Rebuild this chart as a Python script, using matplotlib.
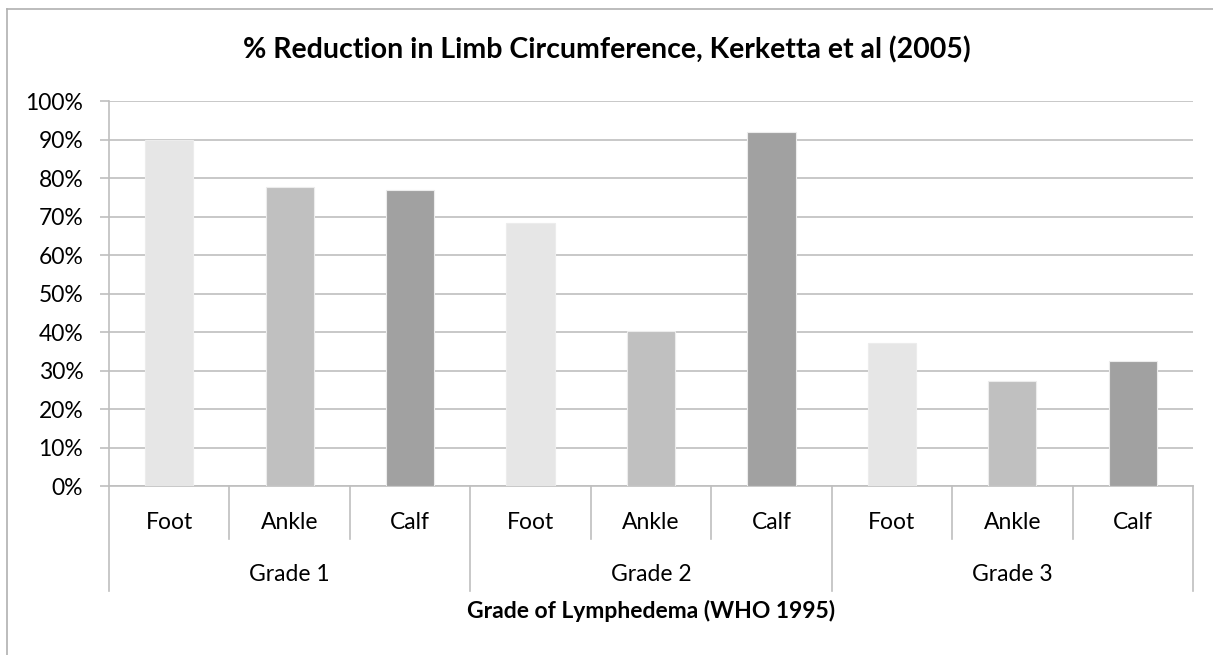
import matplotlib
matplotlib.use("Agg")
import matplotlib.pyplot as plt
from matplotlib.lines import Line2D
from matplotlib.ticker import PercentFormatter

grades = ["Grade 1", "Grade 2", "Grade 3"]
sites = ["Foot", "Ankle", "Calf"]
# % reduction per grade, in order Foot, Ankle, Calf
grade1 = [90.0, 77.7, 76.9]
grade2 = [68.4, 40.4, 91.9]
grade3 = [37.1, 27.3, 32.6]
site_colors = ["#e6e6e6", "#c0c0c0", "#a1a1a1"]

plt.rcParams["font.family"] = ["Lato", "DejaVu Sans"]
GRID = "#bfbfbf"
FS = 16.5

fig = plt.figure(figsize=(12.13, 6.55), dpi=100)
ax = fig.add_axes([109 / 1213, 1 - 486.3 / 655, 1084 / 1213, 385 / 655])

values = grade1 + grade2 + grade3
n = len(values)
xs = list(range(n))
colors = site_colors * len(grades)
ax.bar(xs, values, width=0.4, color=colors, edgecolor="#ececec", linewidth=0.8, zorder=3)

ax.set_xlim(-0.5, n - 0.5)
ax.set_ylim(0, 100)
ax.set_yticks(range(0, 101, 10))
ax.yaxis.set_major_formatter(PercentFormatter(decimals=0))
ax.grid(axis="y", color=GRID, linewidth=1.2, zorder=0)
ax.tick_params(axis="y", length=6.5, width=1.2, color=GRID, pad=12, labelsize=FS)
ax.set_xticks([])
for side in ["top", "right"]:
    ax.spines[side].set_visible(False)
for side in ["left", "bottom"]:
    ax.spines[side].set_color(GRID)
    ax.spines[side].set_linewidth(1.2)

# hierarchical category axis
tr = ax.get_xaxis_transform()
for i in range(n + 1):
    xb = i - 0.5
    low = -0.272 if i % 3 == 0 else -0.137
    ax.add_line(Line2D([xb, xb], [0, low], transform=tr, color=GRID, lw=1.2, clip_on=False))
for i, v in enumerate(xs):
    ax.text(v, -0.093, sites[i % 3], transform=tr, ha="center", va="center", fontsize=FS)
for g, name in enumerate(grades):
    ax.text(3 * g + 1, -0.228, name, transform=tr, ha="center", va="center", fontsize=FS)
ax.text(0.5 * (n - 1), -0.324, "Grade of Lymphedema (WHO 1995)", transform=tr,
        ha="center", va="center", fontsize=FS, fontweight="bold")

fig.text(0.5, 1 - 50 / 655, "% Reduction in Limb Circumference, Kerketta et al (2005)",
         ha="center", va="center", fontsize=20.5, fontweight="bold")

# chart frame (left and top edges visible)
fig.add_artist(Line2D([7 / 1213, 7 / 1213], [0, 1 - 9 / 655], color="#b0b0b0", lw=1.2))
fig.add_artist(Line2D([7 / 1213, 1], [1 - 9 / 655, 1 - 9 / 655], color="#b0b0b0", lw=1.2))

fig.savefig("out.png", dpi=100)
